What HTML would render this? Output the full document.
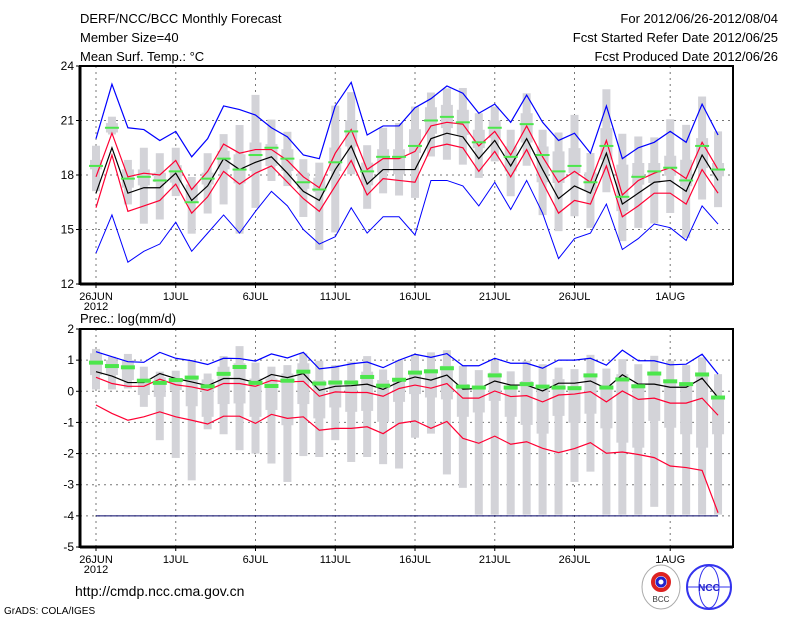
<!DOCTYPE html>
<html><head><meta charset="utf-8"><style>
body{margin:0;background:#fff;}
svg{display:block;font-family:"Liberation Sans",sans-serif;}
</style></head><body>
<svg id="chart" width="800" height="618" viewBox="0 0 800 618">
<g font-size="13" fill="#000">
<text x="80" y="23">DERF/NCC/BCC Monthly Forecast</text>
<text x="80" y="42">Member Size=40</text>
<text x="80" y="61">Mean Surf. Temp.: °C</text>
<text x="778" y="23" text-anchor="end">For 2012/06/26-2012/08/04</text>
<text x="778" y="42" text-anchor="end">Fcst Started Refer Date 2012/06/25</text>
<text x="778" y="61" text-anchor="end">Fcst Produced Date 2012/06/26</text>
</g>
<text x="80" y="323" font-size="13">Prec.: log(mm/d)</text>
<text x="75" y="596" font-size="14">http://cmdp.ncc.cma.gov.cn</text>
<text x="4" y="614" font-size="10">GrADS: COLA/IGES</text>
<g>
<ellipse cx="661" cy="587" rx="19" ry="22" fill="#fff" stroke="#aaa"/>
<circle cx="661" cy="582" r="8" fill="none" stroke="#d22" stroke-width="4"/>
<circle cx="661" cy="582" r="4" fill="none" stroke="#22c" stroke-width="3"/>
<text x="661" y="602" font-size="8" text-anchor="middle" fill="#333">BCC</text>
</g>
<g>
<circle cx="709" cy="587" r="22" fill="#fff" stroke="#33e" stroke-width="2"/>
<ellipse cx="709" cy="587" rx="10" ry="21" fill="none" stroke="#33e"/>
<line x1="688" y1="587" x2="730" y2="587" stroke="#33e"/>
<text x="709" y="591" font-size="10" text-anchor="middle" fill="#22c" font-weight="bold">NCC</text>
</g>
<g id="plots"></g>
</svg>
<script>
const tickDays=[0,5,10,15,20,25,30,36];
const tickLabels=["26JUN","1JUL","6JUL","11JUL","16JUL","21JUL","26JUL","1AUG"];
const tYTicks=[12,15,18,21,24];
const pYTicks=[-5,-4,-3,-2,-1,0,1,2];
const tMax=[20.0,23.0,20.6,20.5,19.9,20.4,19.0,20.0,21.8,21.6,21.3,20.6,20.1,19.1,18.9,21.8,23.1,20.2,20.7,20.7,21.7,22.2,22.9,22.5,21.4,21.9,20.9,22.4,20.9,19.9,20.3,19.2,21.8,18.9,19.5,19.8,20.4,19.8,21.9,20.2];
const tMin=[13.7,15.8,13.2,13.8,14.2,15.4,13.8,14.8,15.8,14.8,16.0,17.1,16.3,15.0,14.2,14.6,16.2,14.8,15.7,15.7,14.7,17.7,17.7,17.4,16.3,17.6,16.1,17.7,15.9,13.4,14.5,14.8,16.4,13.9,14.5,15.3,15.1,14.4,16.3,15.3];
const tMean=[17.0,19.5,17.0,17.3,17.3,18.1,16.6,17.4,18.9,18.3,18.7,19.0,18.1,17.1,16.6,18.3,19.6,17.5,18.3,18.3,18.3,20.0,20.3,20.1,18.9,19.9,18.5,20.0,18.3,16.7,17.4,17.0,19.2,16.4,17.0,17.6,17.7,17.1,19.1,17.7];
const tUp=[17.9,20.3,17.9,18.1,18.0,18.8,17.2,18.2,19.7,19.2,19.4,19.4,18.8,17.9,17.3,19.2,20.5,18.3,18.9,18.9,19.3,20.7,20.9,20.8,19.6,20.4,19.1,20.7,19.0,17.6,18.2,17.6,19.9,16.9,17.7,18.1,18.4,17.8,19.8,18.3];
const tLow=[16.2,19.1,16.0,16.3,16.6,17.5,15.9,16.8,18.2,17.5,18.1,18.5,17.6,16.7,16.0,17.4,18.8,16.9,17.8,17.7,17.6,19.5,19.7,19.5,18.2,19.3,17.9,19.4,17.6,15.9,16.6,16.4,18.5,15.7,16.3,17.0,17.0,16.4,18.3,17.0];
const tObs=[18.5,20.6,17.8,17.9,17.7,18.2,16.5,17.8,18.9,18.3,19.1,19.5,18.9,17.6,17.2,18.7,20.4,18.2,19.0,19.0,19.6,21.0,21.2,20.9,19.8,20.6,19.0,20.8,19.1,18.2,18.5,17.6,19.6,16.8,17.9,18.2,18.4,17.7,19.6,18.3];
const tRangeHi=[19.61,21.21,18.83,19.50,19.20,19.50,17.89,19.20,20.25,20.75,22.41,21.05,20.38,18.87,18.68,21.82,22.56,19.64,20.60,20.86,21.77,22.54,22.77,22.79,21.40,21.77,20.49,22.50,20.49,20.34,21.31,19.21,22.72,20.27,20.12,20.07,21.07,20.76,22.32,20.40];
const tBoxHi=[18.83,20.86,18.31,18.31,18.13,18.54,17.48,18.13,19.33,19.14,19.79,19.70,19.42,18.13,17.85,19.51,21.00,18.68,19.42,19.42,20.52,21.73,21.86,21.59,20.49,21.00,19.57,21.40,19.57,19.30,19.48,18.15,20.58,18.57,18.66,18.66,19.06,18.84,20.03,18.66];
const tBoxLo=[18.31,20.34,17.30,17.43,17.61,17.58,16.47,17.48,18.31,17.54,18.22,18.50,18.22,17.24,17.06,18.22,19.57,17.43,18.13,18.04,19.21,20.27,20.58,20.21,19.48,20.03,18.20,19.79,17.60,17.56,18.11,17.10,18.84,16.01,17.47,17.56,17.96,17.38,18.38,17.93];
const tRangeLo=[17.11,20.23,16.38,15.32,15.55,16.84,14.77,15.88,16.38,14.77,16.19,17.67,17.39,15.69,13.88,14.84,18.04,16.14,16.99,16.87,16.74,19.02,18.84,18.57,17.84,18.75,16.83,18.51,15.79,14.91,15.73,15.09,17.05,14.36,15.09,15.33,15.91,14.54,16.65,16.23];
const pMax=[1.27,1.11,0.95,0.93,1.25,1.06,0.98,0.86,1.06,1.05,0.97,1.20,1.07,1.25,0.72,0.78,0.88,0.94,0.76,1.0,1.19,1.09,1.21,0.82,0.82,1.06,0.90,0.90,0.74,1.0,1.0,1.06,0.84,1.32,0.98,0.98,0.85,0.87,1.19,0.55];
const pMin=[-4,-4,-4,-4,-4,-4,-4,-4,-4,-4,-4,-4,-4,-4,-4,-4,-4,-4,-4,-4,-4,-4,-4,-4,-4,-4,-4,-4,-4,-4,-4,-4,-4,-4,-4,-4,-4,-4,-4,-4];
const pMean=[0.63,0.49,0.28,0.28,0.57,0.41,0.30,0.18,0.41,0.41,0.28,0.54,0.44,0.57,0.03,0.16,0.18,0.23,0.06,0.30,0.46,0.36,0.52,0.07,0.09,0.33,0.20,0.20,0.01,0.26,0.26,0.33,0.09,0.53,0.23,0.23,0.13,0.13,0.42,-0.20];
const pUp=[0.45,0.25,0.16,0.16,0.39,0.21,0.14,0.03,0.25,0.25,0.16,0.35,0.30,0.32,-0.16,-0.02,-0.04,-0.04,-0.16,0.09,0.20,0.10,0.25,-0.22,-0.22,0.01,-0.17,-0.14,-0.34,-0.12,-0.09,-0.01,-0.34,0.01,-0.26,-0.22,-0.38,-0.38,-0.22,-0.77];
const pLow=[-0.44,-0.71,-0.93,-0.82,-0.66,-0.82,-0.93,-1.05,-0.80,-0.80,-1.03,-0.74,-0.87,-0.82,-1.25,-1.19,-1.19,-1.14,-1.36,-1.03,-0.95,-1.19,-0.97,-1.51,-1.67,-1.44,-1.70,-1.62,-1.83,-1.97,-1.84,-1.65,-1.99,-1.95,-2.03,-2.13,-2.40,-2.45,-2.54,-3.90];
const pObs=[0.92,0.81,0.77,0.34,0.27,0.36,0.44,0.16,0.56,0.78,0.27,0.17,0.34,0.63,0.25,0.28,0.28,0.46,0.18,0.37,0.60,0.64,0.74,0.15,0.12,0.51,0.12,0.23,0.15,0.12,0.10,0.51,0.12,0.38,0.16,0.57,0.32,0.23,0.54,-0.20];
const pRangeHi=[1.36,1.11,1.20,0.79,0.63,0.66,1.00,0.57,1.13,1.45,0.92,0.79,0.84,1.22,0.98,0.84,0.95,1.13,0.70,1.00,1.19,1.25,1.32,0.82,0.68,1.00,0.64,0.98,0.87,0.76,0.71,1.17,0.73,1.03,0.87,1.14,0.98,0.84,1.09,0.55];
const pBoxHi=[1.22,1.00,1.00,0.36,0.45,0.36,0.41,0.38,0.79,0.90,0.41,0.41,0.57,0.90,0.36,0.36,0.36,0.63,0.36,0.41,0.66,0.71,0.82,0.23,0.17,0.60,0.17,0.33,0.17,0.39,0.12,0.50,0.21,0.55,0.23,0.55,0.33,0.23,0.55,-0.15];
const pBoxLo=[0.52,0.52,0.36,-0.12,-0.18,0.04,-0.48,-0.82,-0.41,-0.39,-0.82,-0.60,-1.09,-0.41,-0.87,-0.52,-0.66,-0.63,-0.98,-0.34,-0.09,-0.20,-0.26,-0.82,-0.68,-0.31,-0.82,-1.08,-1.36,-0.79,-1.01,-0.72,-1.19,-1.65,-1.81,-0.95,-1.17,-1.38,-1.81,-1.38];
const pRangeLo=[0.06,0.06,0.09,-0.50,-1.57,-2.14,-2.86,-1.22,-1.38,-1.89,-2.00,-2.32,-2.91,-2.08,-2.11,-1.57,-2.27,-2.11,-2.34,-2.48,-1.49,-1.36,-2.67,-3.10,-3.96,-3.96,-3.96,-3.96,-3.96,-3.96,-2.91,-2.58,-3.96,-3.96,-3.96,-3.71,-3.96,-3.96,-3.96,-3.96];

const NS="http://www.w3.org/2000/svg";
const root=document.getElementById('plots');
function mk(tag,attrs,parent){const e=document.createElementNS(NS,tag);for(const k in attrs)e.setAttribute(k,attrs[k]);parent.appendChild(e);return e;}
const X0=80,X1=733;
function xScale(d){return 96+15.95*d;}

function panel(name,top,bot,vmin,vmax,yTicks,data){
  const g=mk('g',{},root);
  
  
  const y=v=>top+(vmax-v)/(vmax-vmin)*(bot-top);
  yTicks.forEach(v=>{if(v>vmin&&v<vmax){const l=mk('line',{x1:X0,x2:X1,y1:y(v),y2:y(v),stroke:'#777','stroke-dasharray':'2,4','stroke-width':1},g);
    
    }});
  tickDays.forEach(d=>{const l=mk('line',{x1:xScale(d),x2:xScale(d),y1:top,y2:bot,stroke:'#777','stroke-dasharray':'2,4','stroke-width':1},g);
    
    });
  for(let i=0;i<data.rHi.length;i++){
    const cx=xScale(i);
    const r=mk('rect',{x:cx-4,y:y(data.rHi[i]),width:8,height:Math.max(1,y(data.rLo[i])-y(data.rHi[i])),fill:'#d3d3d8'},g);
    
    
    const b=mk('rect',{x:cx-6,y:y(data.bHi[i]),width:12,height:Math.max(1,y(data.bLo[i])-y(data.bHi[i])),fill:'#d3d3d8'},g);
    
    
  }
  const line=(arr,color,nm,w)=>{const p=mk('polyline',{points:arr.map((v,i)=>xScale(i)+','+y(v)).join(' '),fill:'none',stroke:color,'stroke-width':w||1.2},g);
    
    };
  line(data.max,'#0000ff','max-line');
  line(data.min,data.minColor,'min-line',1);
  line(data.up,'#ff0033','upper-line');
  line(data.low,'#ff0033','lower-line');
  line(data.mean,'#000','mean-line');
  for(let i=0;i<data.obs.length;i++){
    const h=data.obsH;
    const o=mk('rect',{x:xScale(i)-7,y:y(data.obs[i])-h/2,width:14,height:h,fill:'#4ce64c'},g);
    
    
  }
  const f=mk('rect',{x:X0,y:top,width:X1-X0,height:bot-top,fill:'none',stroke:'#000','stroke-width':2},g);
  
  
  mk('line',{x1:X0,x2:X0,y1:top,y2:bot+1,stroke:'#000','stroke-width':3},g);
  mk('line',{x1:X0,x2:X1,y1:bot,y2:bot,stroke:'#000','stroke-width':3},g);
  yTicks.forEach(v=>{mk('line',{x1:X0-4,x2:X0,y1:y(v),y2:y(v),stroke:'#000'},g);
    const t=mk('text',{x:X0-6,y:y(v)+4,'text-anchor':'end','font-size':12},g);t.textContent=v;
    
    });
  tickDays.forEach((d,k)=>{mk('line',{x1:xScale(d),x2:xScale(d),y1:bot,y2:bot+4,stroke:'#000'},g);
    const t=mk('text',{x:xScale(d),y:bot+16,'text-anchor':'middle','font-size':11},g);t.textContent=tickLabels[k];
    
    });
  const yr=mk('text',{x:96,y:bot+26,'text-anchor':'middle','font-size':11},g);yr.textContent='2012';
  
  
}
panel('temperature-panel',66,284,12,24,tYTicks,{max:tMax,min:tMin,minColor:'#0000ff',mean:tMean,up:tUp,low:tLow,obs:tObs,rHi:tRangeHi,rLo:tRangeLo,bHi:tBoxHi,bLo:tBoxLo,obsH:2});
panel('precipitation-panel',329,547,-5,2,pYTicks,{max:pMax,min:pMin,minColor:'#000066',mean:pMean,up:pUp,low:pLow,obs:pObs,rHi:pRangeHi,rLo:pRangeLo,bHi:pBoxHi,bLo:pBoxLo,obsH:4});
</script>
</body></html>
